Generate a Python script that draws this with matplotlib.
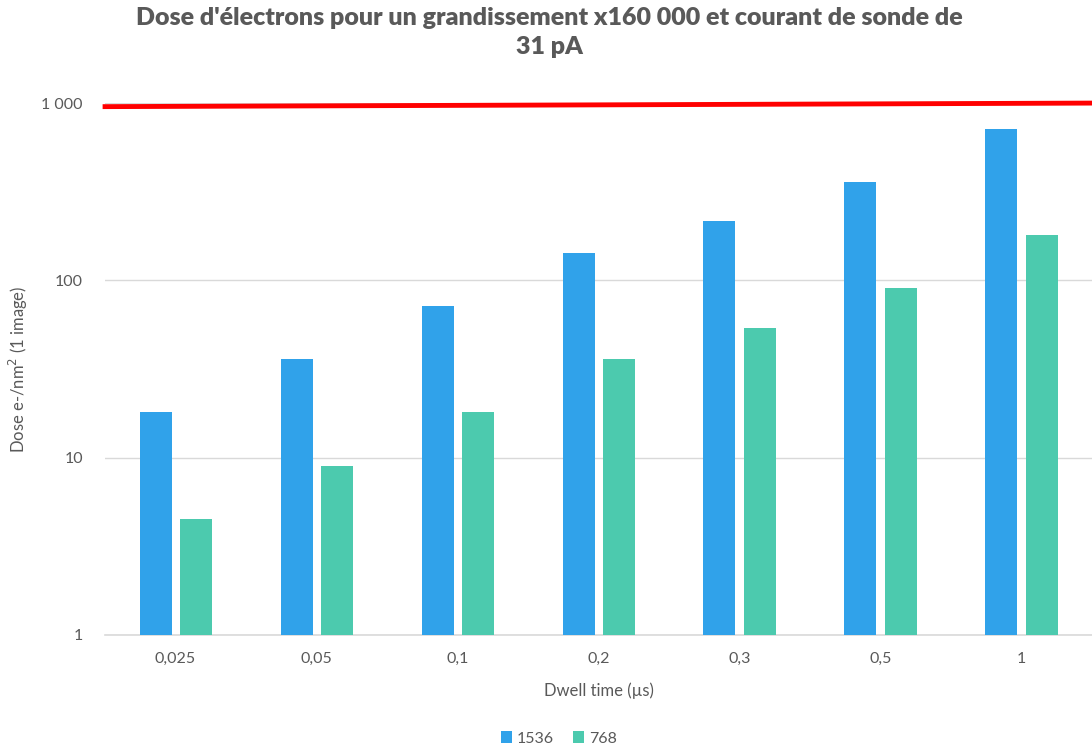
import numpy as np
import matplotlib
matplotlib.use('Agg')
from matplotlib import pyplot as plt
from matplotlib.ticker import FixedLocator, FixedFormatter, NullLocator

# data
dwell = ['0,025', '0,05', '0,1', '0,2', '0,3', '0,5', '1']
dose_1536 = [18, 36, 72, 143, 215, 359, 718]
dose_768 = [4.5, 9, 18, 36, 54, 90, 180]
limit_line = [955, 1000]

yticks = [1, 10, 100, 1000]
ytick_labels = ['1', '10', '100', '1 000']

plt.rcParams['font.family'] = ['Lato', 'DejaVu Sans']
grey = '#595959'
blue = '#30a2ea'
green = '#4ccaae'

fig = plt.figure(figsize=(10.92, 7.47), dpi=100)
ax = fig.add_axes([0.0962, 0.15, 0.9038, 0.712])

x = np.arange(len(dwell))
w = 0.227
ax.bar(x - 0.142, dose_1536, w, color=blue, label='1536', zorder=3)
ax.bar(x + 0.142, dose_768, w, color=green, label='768', zorder=3)

ax.set_yscale('log')
ax.set_ylim(1, 1000)
ax.set_xlim(-0.5, len(dwell) - 0.5)
ax.yaxis.set_major_locator(FixedLocator(yticks))
ax.yaxis.set_major_formatter(FixedFormatter(ytick_labels))
ax.yaxis.set_minor_locator(NullLocator())
ax.set_xticks(x)
ax.set_xticklabels(dwell)

ax.grid(axis='y', color='#d9d9d9', linewidth=1, zorder=0)
for s in ['top', 'right', 'left']:
    ax.spines[s].set_visible(False)
ax.spines['bottom'].set_color('#d9d9d9')
ax.spines['bottom'].set_linewidth(1.2)
ax.tick_params(axis='both', length=0, colors=grey, labelsize=11.5)
ax.tick_params(axis='y', pad=16)
ax.tick_params(axis='x', pad=12)

# red threshold line
ax.plot([-0.5, len(dwell) - 0.5], limit_line, color='#ff0000', linewidth=3.5,
        clip_on=False, zorder=4)

ax.set_xlabel('Dwell time (µs)', color=grey, fontsize=12, labelpad=12)
ax.set_ylabel('Dose e-/nm$^2$ (1 image)', color=grey, fontsize=12, labelpad=8)

fig.suptitle("Dose d'électrons pour un grandissement x160 000 et courant de sonde de\n31 pA",
             x=0.503, y=0.99, fontsize=18, fontweight='heavy', color=grey,
             linespacing=1.35)

ax.legend(loc='lower center', bbox_to_anchor=(0.46, -0.235), ncol=2, frameon=False,
          fontsize=11.5, labelcolor=grey, handlelength=0.7, handleheight=0.7,
          handletextpad=0.3, columnspacing=1.2)

fig.savefig('out.png', dpi=100)
